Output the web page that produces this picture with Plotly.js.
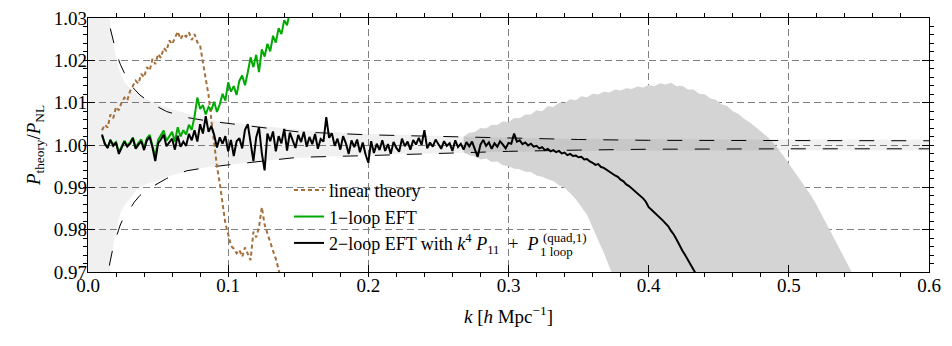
<!DOCTYPE html>
<html>
<head>
<meta charset="utf-8">
<script src="https://cdn.plot.ly/plotly-3.0.1.min.js"></script>
<style>
  html, body { margin: 0; padding: 0; background: #fff; }
  #chart { width: 952px; height: 346px; }
</style>
</head>
<body>
<div id="chart"></div>
<script>
// evenly spaced k bins, same spacing as the measured spectra
function kgrid(start, step, n) {
    const out = [];
    for (let i = 0; i < n; i++) out.push(+(start + i * step).toFixed(4));
    return out;
}

// ---- ratio P_theory / P_NL ----
const linearRatio = [
    1.0035, 1.0048, 1.0041, 1.0072, 1.0063, 1.0090, 1.0082, 1.0101, 1.0112, 1.0105,
    1.0127, 1.0138, 1.0152, 1.0145, 1.0168, 1.0160, 1.0184, 1.0176, 1.0203, 1.0191,
    1.0215, 1.0206, 1.0229, 1.0222, 1.0247, 1.0238, 1.0255, 1.0268, 1.0250, 1.0262,
    1.0256, 1.0266, 1.0248, 1.0262, 1.0243, 1.0235, 1.0195, 1.0158, 1.0118, 1.0060,
    1.0005, 0.9950, 0.9910, 0.9862, 0.9815, 0.9790, 0.9762, 0.9755, 0.9744, 0.9752,
    0.9736, 0.9758, 0.9742, 0.9728, 0.9795, 0.9782, 0.9806, 0.9853, 0.9812, 0.9790,
    0.9772, 0.9750, 0.9731, 0.9706, 0.9680
];
const oneLoopRatio = [
    1.0022, 1.0004, 0.9995, 1.0010, 1.0001, 1.0007, 0.9983, 0.9995, 1.0010, 0.9999,
    1.0006, 1.0018, 0.9995, 1.0005, 1.0013, 0.9993, 1.0016, 1.0024, 1.0000, 0.9972,
    1.0012, 1.0022, 1.0034, 1.0010, 1.0021, 1.0031, 1.0008, 1.0042, 1.0020, 1.0035,
    1.0025, 1.0048, 1.0036, 1.0067, 1.0112, 1.0085, 1.0094, 1.0072, 1.0090, 1.0083,
    1.0102, 1.0078, 1.0096, 1.0121, 1.0105, 1.0148, 1.0126, 1.0139, 1.0118, 1.0152,
    1.0164, 1.0141, 1.0172, 1.0207, 1.0184, 1.0213, 1.0172, 1.0226, 1.0209, 1.0239,
    1.0221, 1.0258, 1.0242, 1.0276, 1.0262, 1.0295, 1.0283, 1.0315
];
const twoLoopRatio = [
    1.0025, 1.0002, 0.9993, 1.0012, 0.9998, 1.0006, 0.9979, 0.9992, 1.0008, 0.9996,
    1.0003, 1.0016, 0.9991, 1.0001, 1.0009, 0.9988, 1.0011, 1.0019, 0.9994, 0.9962,
    1.0004, 1.0013, 1.0024, 0.9997, 1.0006, 1.0015, 0.9989, 1.0022, 0.9996, 1.0008,
    0.9998, 1.0026, 1.0011, 1.0035, 1.0008, 1.0049, 1.0027, 1.0068, 1.0031, 1.0045,
    1.0024, 0.9994, 1.0018, 1.0003, 1.0021, 0.9985, 1.0012, 0.9974, 1.0009, 1.0016,
    0.9992, 1.0036, 1.0049, 1.0001, 0.9962, 1.0018, 1.0042, 0.9981, 0.9940, 1.0027,
    1.0009, 1.0032, 0.9985, 1.0021, 1.0004, 1.0038, 0.9987, 1.0029, 1.0012, 0.9993,
    1.0024, 1.0007, 1.0031, 0.9996, 1.0019, 1.0002, 1.0026, 0.9991, 1.0014, 1.0008,
    1.0066, 1.0017, 1.0028, 0.9998, 1.0015, 0.9989, 1.0021, 1.0004, 0.9979, 1.0011,
    0.9995, 1.0013, 0.9983, 1.0006, 0.9978, 0.9958, 1.0009, 0.9981, 1.0003, 0.9988,
    1.0011, 0.9986, 1.0002, 0.9979, 1.0007, 0.9993, 0.9984, 1.0015, 0.9997, 1.0008,
    0.9989, 1.0012, 1.0001, 1.0017, 1.0000, 1.0035, 0.9992, 1.0006, 0.9996, 1.0013,
    1.0002, 0.9991, 1.0009, 0.9998, 1.0004, 0.9986, 1.0011, 0.9995, 1.0003, 0.9989,
    1.0007, 0.9997, 1.0008, 0.9992, 0.9972, 1.0001, 1.0012, 0.9998, 1.0006, 0.9991,
    1.0004, 0.9996, 1.0009, 1.0001, 0.9992, 1.0005, 1.0003, 1.0027, 1.0008, 1.0011,
    1.0002, 1.0006, 0.9999, 1.0003, 0.9996, 0.9998, 0.9992, 0.9995, 0.9988, 0.9991,
    0.9985, 0.9988, 0.9983, 0.9986, 0.9980, 0.9982, 0.9976, 0.9979, 0.9974, 0.9975,
    0.9971, 0.9972, 0.9966, 0.9967, 0.9961, 0.9958, 0.9953, 0.9955, 0.9948, 0.9946,
    0.9941, 0.9937, 0.9933, 0.9928, 0.9925, 0.9918, 0.9914, 0.9907, 0.9903, 0.9897,
    0.9893, 0.9886, 0.9881, 0.9874, 0.9866,
    0.9853, 0.9847, 0.9841, 0.9836, 0.9829, 0.9822, 0.9815, 0.9808, 0.9797, 0.9788,
    0.9776, 0.9762, 0.9751, 0.9740, 0.9729, 0.9717, 0.9706, 0.9694
];
const kLinear = kgrid(0.010, 0.002, linearRatio.length);
const kOneLoop = kgrid(0.010, 0.002, oneLoopRatio.length);
const kTwoLoop = kgrid(0.010, 0.002, twoLoopRatio.length);

// ---- light band (error on the measurement) ----
const lightK  = [0, 0.008, 0.0125, 0.0157, 0.0169, 0.019, 0.0215, 0.024, 0.0264, 0.030, 0.035, 0.0404, 0.050,
                 0.061, 0.0713, 0.085, 0.100, 0.121, 0.150, 0.200, 0.250, 0.300, 0.350, 0.400, 0.500, 0.600];
const lightHi = [1.2, 1.06, 1.04, 1.030, 1.0264, 1.0225, 1.0185, 1.0165, 1.0146, 1.0135, 1.0123, 1.0111, 1.0096,
                 1.0083, 1.0074, 1.0061, 1.0054, 1.0046, 1.0036, 1.0026, 1.0021, 1.0017, 1.0015, 1.0014, 1.0013, 1.0013];
const lightLo = [0.8, 0.94, 0.96, 0.9705, 0.974, 0.978, 0.982, 0.9845, 0.9858, 0.9875, 0.9895, 0.9906, 0.9916,
                 0.9930, 0.9938, 0.9948, 0.9953, 0.9961, 0.9969, 0.9977, 0.9981, 0.9984, 0.9986, 0.9987, 0.9987, 0.9987];

// ---- dashed envelope ----
const dashK  = [0.013, 0.0146, 0.016, 0.018, 0.0204, 0.023, 0.0255, 0.0288, 0.033, 0.0371, 0.042, 0.0464, 0.0561,
                0.0704, 0.085, 0.100, 0.121, 0.150, 0.200, 0.250, 0.300, 0.350, 0.400, 0.500, 0.600];
const dashHi = [1.035, 1.030, 1.0274, 1.0245, 1.0215, 1.0191, 1.0172, 1.0150, 1.0132, 1.0118, 1.0106, 1.0096, 1.0079,
                1.0065, 1.0057, 1.0051, 1.0042, 1.0031, 1.0024, 1.0020, 1.0016, 1.0013, 1.0011, 1.0010, 1.0010];
const dashLo = [0.964, 0.9705, 0.9728, 0.9760, 0.9785, 0.9811, 0.9829, 0.9843, 0.9865, 0.9881, 0.9894, 0.9903, 0.9921,
                0.9939, 0.9947, 0.9953, 0.9961, 0.9971, 0.9975, 0.9980, 0.9985, 0.9988, 0.9990, 0.9991, 0.9991];

// ---- dark band (large k) ----
const darkUpK = kgrid(0.268, 0.004, 71);
const darkUp = [
    1.0020, 1.0029, 1.0031, 1.0040, 1.0039, 1.0048, 1.0047, 1.0056, 1.0054, 1.0064,
    1.0063, 1.0072, 1.0072, 1.0082, 1.0080, 1.0092, 1.0090, 1.0100, 1.0099, 1.0108,
    1.0106, 1.0115, 1.0113, 1.0121, 1.0119, 1.0126, 1.0124, 1.0131, 1.0129, 1.0134,
    1.0132, 1.0138, 1.0136, 1.0142, 1.0139, 1.0146, 1.0143, 1.0147, 1.0139, 1.0140,
    1.0131, 1.0131, 1.0121, 1.0120, 1.0110, 1.0107, 1.0096, 1.0092, 1.0080, 1.0074,
    1.0062, 1.0054, 1.0043, 1.0033, 1.0021, 1.0008, 0.9992, 0.9975, 0.9956, 0.9937,
    0.9918, 0.9901, 0.9880, 0.9857, 0.9832, 0.9807, 0.9783, 0.9757, 0.9733, 0.9706,
    0.9680
];
const darkLoK = kgrid(0.268, 0.004, 29);
const darkLo = [
    0.9982, 0.9976, 0.9973, 0.9966, 0.9968, 0.9960, 0.9961, 0.9952, 0.9950, 0.9944,
    0.9943, 0.9937, 0.9936, 0.9928, 0.9925, 0.9919, 0.9915, 0.9905, 0.9899, 0.9886,
    0.9872, 0.9855, 0.9835, 0.9805, 0.9777, 0.9745, 0.9712, 0.9680, 0.9650
];

const serif = "Liberation Serif, Times New Roman, serif";
const nb = "\u00a0";

const traces = [
    {   // dark band
        x: darkUpK.concat(darkLoK.slice().reverse()),
        y: darkUp.concat(darkLo.slice().reverse()),
        mode: "lines", fill: "toself", fillcolor: "#d4d4d4",
        line: { width: 0 }, showlegend: false, hoverinfo: "skip"
    },
    {   // light band
        x: lightK.concat(lightK.slice().reverse()),
        y: lightHi.concat(lightLo.slice().reverse()),
        mode: "lines", fill: "toself", fillcolor: "rgba(0,0,0,0.06)",
        line: { width: 0 }, showlegend: false, hoverinfo: "skip"
    },
    {
        x: dashK, y: dashHi, mode: "lines", showlegend: false, hoverinfo: "skip",
        line: { color: "#000", width: 1, dash: "15px,17px" }
    },
    {
        x: dashK, y: dashLo, mode: "lines", showlegend: false, hoverinfo: "skip",
        line: { color: "#000", width: 1, dash: "15px,17px" }
    },
    {
        x: kLinear, y: linearRatio, mode: "lines", name: "linear theory",
        line: { color: "#a46f3b", width: 2, dash: "4px,3px" }
    },
    {
        x: kOneLoop, y: oneLoopRatio, mode: "lines", name: "1\u2212loop EFT",
        line: { color: "#00aa00", width: 2 }
    },
    {
        x: kTwoLoop, y: twoLoopRatio, mode: "lines",
        name: "2\u2212loop EFT with <i>k</i><sup>4</sup>" + nb + "<i>P</i><sub>11</sub>" + nb + nb + "+" + nb + nb + "<i>P</i>",
        line: { color: "#000", width: 2 }
    }
];

const axisCommon = {
    showline: true, linecolor: "#000", linewidth: 1.2, mirror: "allticks",
    ticks: "inside", ticklen: 7, tickcolor: "#000", tickwidth: 1,
    showgrid: true, gridcolor: "#808080", gridwidth: 1, griddash: "7px,4px",
    zeroline: false, ticklabelstandoff: -4,
    tickfont: { family: serif, size: 19, color: "#000" }
};

const layout = {
    width: 952, height: 346,
    margin: { l: 88, r: 23, t: 18, b: 74 },
    paper_bgcolor: "#fff", plot_bgcolor: "#fff",
    font: { family: serif, color: "#000" },
    xaxis: Object.assign({}, axisCommon, {
        range: [0, 0.6], dtick: 0.1, tickformat: ".1f",
        minor: { dtick: 0.02, ticklen: 4, tickcolor: "#000", showgrid: false },
        title: { text: "<i>k</i> [<i>h</i> Mpc<sup>\u22121</sup>]", font: { family: serif, size: 19 }, standoff: 14 }
    }),
    yaxis: Object.assign({}, axisCommon, {
        range: [0.97, 1.03], dtick: 0.01, tickformat: ".2f",
        minor: { dtick: 0.002, ticklen: 4, tickcolor: "#000", showgrid: false },
        title: { text: "<i>P</i><sub>theory</sub>/<i>P</i><sub>NL</sub>", font: { family: serif, size: 19 }, standoff: 8 }
    }),
    legend: {
        x: 0.239, y: 0.394, xanchor: "left", yanchor: "top",
        bgcolor: "rgba(0,0,0,0)", borderwidth: 0,
        font: { family: serif, size: 18, color: "#000" },
        tracegroupgap: 0
    },
    annotations: [
        { xref: "paper", yref: "paper", x: (541 - 88) / 841, y: (272 - 237.7) / 254, xanchor: "left", yanchor: "middle",
          text: "(quad,1)", showarrow: false, font: { family: serif, size: 13 } },
        { xref: "paper", yref: "paper", x: (538 - 88) / 841, y: (272 - 251.7) / 254, xanchor: "left", yanchor: "middle",
          text: "1 loop", showarrow: false, font: { family: serif, size: 13 } }
    ],
    showlegend: true
};

Plotly.newPlot("chart", traces, layout, { displayModeBar: false, staticPlot: true });
</script>
</body>
</html>
